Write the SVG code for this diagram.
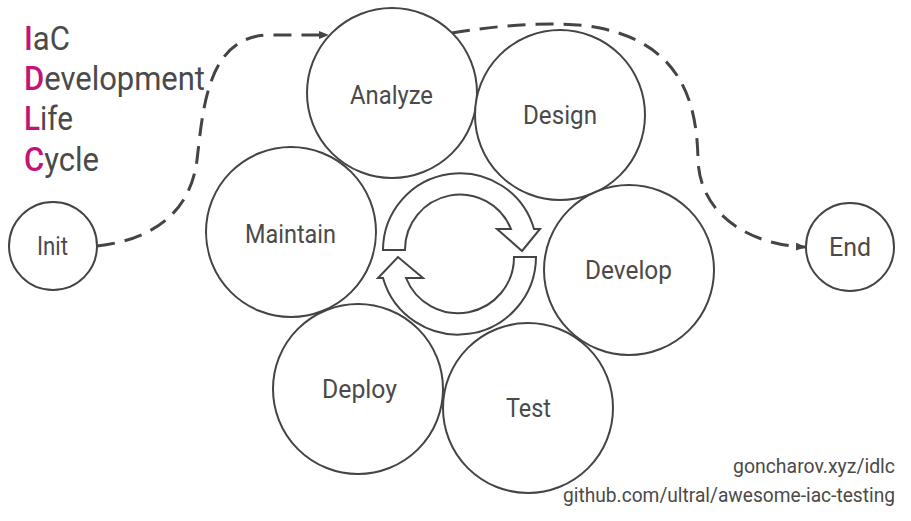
<svg xmlns="http://www.w3.org/2000/svg" width="911" height="521" viewBox="0 0 911 521">
<defs>
<marker id="ah" viewBox="0 0 10 10" refX="9" refY="5" markerWidth="10" markerHeight="10" markerUnits="userSpaceOnUse" orient="auto">
<path d="M0,1 L10,5 L0,9 Z" fill="#444"/>
</marker>
<style>
.node circle{fill:#fff;stroke:#444;stroke-width:2}
.lbl{font-family:Roboto,"Liberation Sans",sans-serif;font-size:26px;font-weight:400;fill:#4a4a4a}
.title{font-family:Roboto,"Liberation Sans",sans-serif;font-size:33px;font-weight:400;fill:#4a4a4a}
.mag{fill:#c4127a;font-weight:500}
.foot{font-family:Roboto,"Liberation Sans",sans-serif;font-size:20px;font-weight:400;fill:#4a4a4a}
.dash{fill:none;stroke:#444;stroke-width:3;stroke-dasharray:18 10}
.cyc{fill:#fff;stroke:#444;stroke-width:2;stroke-linejoin:miter}
</style>
</defs>
<rect width="911" height="521" fill="#fff"/>

<g id="title">
<text class="title" x="24" y="50" textLength="46" lengthAdjust="spacingAndGlyphs"><tspan class="mag">I</tspan>aC</text>
<text class="title" x="24" y="90" textLength="181" lengthAdjust="spacingAndGlyphs"><tspan class="mag">D</tspan>evelopment</text>
<text class="title" x="24" y="130" textLength="49" lengthAdjust="spacingAndGlyphs"><tspan class="mag">L</tspan>ife</text>
<text class="title" x="24" y="171" textLength="75" lengthAdjust="spacingAndGlyphs"><tspan class="mag">C</tspan>ycle</text>
</g>

<g id="connectors">
<path class="dash" d="M97,246 C150,240 190,215 197,160 C203,110 207,35 270,35 L328,35" marker-end="url(#ah)"/>
<path class="dash" d="M452,33 C500,25 560,20 600,28 C680,45 697,100 698,160 C700,215 750,245 805,247" marker-end="url(#ah)"/>
</g>

<g id="init" class="node"><circle cx="53" cy="246" r="44"/><text class="lbl" x="37" y="255" textLength="31" lengthAdjust="spacingAndGlyphs">Init</text></g>
<g id="end" class="node"><circle cx="850" cy="247" r="44"/><text class="lbl" x="829" y="256" textLength="42" lengthAdjust="spacingAndGlyphs">End</text></g>

<g id="analyze" class="node"><circle cx="392" cy="93" r="85"/><text class="lbl" x="350" y="104" textLength="83" lengthAdjust="spacingAndGlyphs">Analyze</text></g>
<g id="design" class="node"><circle cx="560" cy="115" r="85"/><text class="lbl" x="523" y="124" textLength="74" lengthAdjust="spacingAndGlyphs">Design</text></g>
<g id="maintain" class="node"><circle cx="291" cy="232" r="85"/><text class="lbl" x="245" y="243" textLength="91" lengthAdjust="spacingAndGlyphs">Maintain</text></g>
<g id="develop" class="node"><circle cx="629" cy="270" r="85"/><text class="lbl" x="585" y="279" textLength="87" lengthAdjust="spacingAndGlyphs">Develop</text></g>
<g id="deploy" class="node"><circle cx="358" cy="389" r="85"/><text class="lbl" x="322" y="398" textLength="75" lengthAdjust="spacingAndGlyphs">Deploy</text></g>
<g id="test" class="node"><circle cx="528" cy="408" r="85"/><text class="lbl" x="506" y="417" textLength="45" lengthAdjust="spacingAndGlyphs">Test</text></g>

<g id="cycle">
<path class="cyc" d="M383,250 A77,77 0 0 1 534,229 L540,229 L522,251 L497,229 L511,229 A55,55 0 0 0 405,250 Z"/>
<path class="cyc" d="M536,257 A78,78 0 0 1 383,278 L378,278 L398,257 L423,278 L406,278 A56,56 0 0 0 514,257 Z"/>
</g>

<g id="footer">
<text class="foot" x="733" y="473" textLength="162" lengthAdjust="spacingAndGlyphs">goncharov.xyz/idlc</text>
<text class="foot" x="563" y="502" textLength="332" lengthAdjust="spacingAndGlyphs">github.com/ultral/awesome-iac-testing</text>
</g>
</svg>
